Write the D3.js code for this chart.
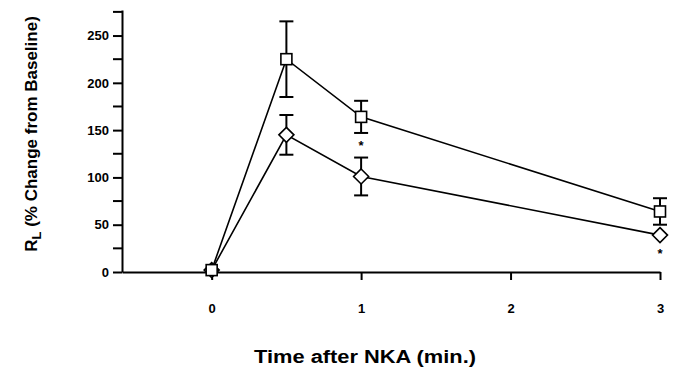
<!DOCTYPE html>
<html>
<head>
<meta charset="utf-8">
<script src="https://cdn.jsdelivr.net/npm/d3@7"></script>
<style>
  body { margin: 0; background: #fff; }
  svg { display: block; font-family: "Liberation Sans", Arial, Helvetica, sans-serif; font-weight: bold; }
  .axis path, .axis line { stroke: #000; stroke-width: 2; }
  .axis text { font-size: 13px; font-weight: bold; fill: #000; }
</style>
</head>
<body>
<div id="canvas"></div>
<script>
//---- ---- DATA ---- ----
var times = [0, 0.5, 1, 3];
var squareMean = [2, 225, 164, 64];
var squareErr = [0, 40, 17, 14];
var diamondMean = [2, 145, 101, 39];
var diamondErr = [0, 21, 20, 0];
var xTicks = [0, 1, 2, 3];
var yTicks = [0, 50, 100, 150, 200, 250];
var yMinorTicks = [25, 75, 125, 175, 225, 275];
// significance stars: time and series they sit under
var starTimes = [1, 3];
var starSeries = ['square', 'diamond'];

//---- ---- SIZE ---- ----
var W = 679, H = 382;
var svg = d3.select('#canvas').append('svg')
  .attr('width', W).attr('height', H);

//---- ---- SCALES ---- ----
var x = d3.scaleLinear().domain([-0.6, 3]).range([122, 660]);
var y = d3.scaleLinear().domain([0, 277]).range([272, 10]);

//---- ---- AXES ---- ----
var axisY = d3.axisLeft(y).tickValues(yTicks).tickSize(9).tickPadding(4).tickSizeOuter(0);
var gy = svg.append('g').attr('class', 'axis')
  .attr('transform', 'translate(' + x(-0.6) + ',0)')
  .call(axisY);
gy.selectAll('.minor').data(yMinorTicks).enter().append('line')
  .attr('class', 'minor')
  .attr('x1', -9).attr('x2', 0)
  .attr('y1', function(d) { return y(d); })
  .attr('y2', function(d) { return y(d); });

var axisX = d3.axisBottom(x).tickValues(xTicks).tickFormat(d3.format('d'))
  .tickSize(8).tickPadding(24).tickSizeOuter(0);
svg.append('g').attr('class', 'axis')
  .attr('transform', 'translate(0,' + y(0) + ')')
  .call(axisX);

//---- ---- SERIES ---- ----
function series(means, errs) {
  return times.map(function(t, i) { return { t: t, v: means[i], e: errs[i] }; });
}
var sq = series(squareMean, squareErr);
var di = series(diamondMean, diamondErr);

var line = d3.line().x(function(d) { return x(d.t); }).y(function(d) { return y(d.v); });

[sq, di].forEach(function(s) {
  svg.append('path').datum(s)
    .attr('d', line)
    .attr('fill', 'none').attr('stroke', '#000').attr('stroke-width', 1.6);

  var eb = svg.append('g').selectAll('g').data(s.filter(function(d) { return d.e > 0; }))
    .enter().append('g').attr('stroke', '#000').attr('stroke-width', 2);
  eb.append('line')
    .attr('x1', function(d) { return x(d.t); }).attr('x2', function(d) { return x(d.t); })
    .attr('y1', function(d) { return y(d.v + d.e); }).attr('y2', function(d) { return y(d.v - d.e); });
  eb.append('line')
    .attr('x1', function(d) { return x(d.t) - 7; }).attr('x2', function(d) { return x(d.t) + 7; })
    .attr('y1', function(d) { return y(d.v + d.e); }).attr('y2', function(d) { return y(d.v + d.e); });
  eb.append('line')
    .attr('x1', function(d) { return x(d.t) - 7; }).attr('x2', function(d) { return x(d.t) + 7; })
    .attr('y1', function(d) { return y(d.v - d.e); }).attr('y2', function(d) { return y(d.v - d.e); });
});

// diamonds
svg.selectAll('.diamond').data(di).enter().append('path')
  .attr('class', 'diamond')
  .attr('d', function(d) {
    var cx = x(d.t), cy = y(d.v), r = 7.5;
    return 'M' + cx + ',' + (cy - r) + 'L' + (cx + r) + ',' + cy + 'L' + cx + ',' + (cy + r) + 'L' + (cx - r) + ',' + cy + 'Z';
  })
  .attr('fill', '#fff').attr('stroke', '#000').attr('stroke-width', 1.6);

// squares
svg.selectAll('.square').data(sq).enter().append('rect')
  .attr('class', 'square')
  .attr('x', function(d) { return x(d.t) - 5.5; })
  .attr('y', function(d) { return y(d.v) - 5.5; })
  .attr('width', 11).attr('height', 11)
  .attr('fill', '#fff').attr('stroke', '#000').attr('stroke-width', 1.6);

// asterisks
svg.selectAll('.star').data(starTimes).enter().append('text')
  .attr('class', 'star')
  .attr('x', function(t) { return x(t); })
  .attr('y', function(t, i) {
    var s = starSeries[i] === 'square' ? sq : di;
    var d = s[times.indexOf(t)];
    return y(d.v - d.e) + (d.e > 0 ? 17 : 23);
  })
  .attr('text-anchor', 'middle')
  .style('font-size', '13px')
  .text('*');

//---- ---- TITLES ---- ----
svg.append('text')
  .attr('x', 365).attr('y', 363)
  .attr('text-anchor', 'middle')
  .attr('textLength', 222).attr('lengthAdjust', 'spacingAndGlyphs')
  .style('font-size', '18px')
  .text('Time after NKA (min.)');

var yt = svg.append('text')
  .attr('transform', 'translate(37,134) rotate(-90)')
  .attr('text-anchor', 'middle')
  .style('font-size', '17px');
yt.append('tspan').text('R');
yt.append('tspan').attr('dy', 4).style('font-size', '13px').text('L');
yt.append('tspan').attr('dy', -4).text(' (% Change from Baseline)');
</script>
</body>
</html>
